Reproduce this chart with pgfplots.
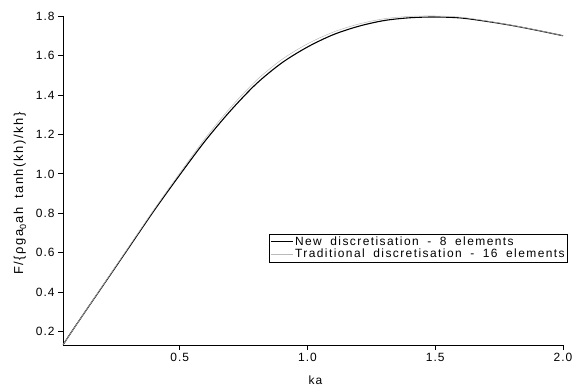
\documentclass[border=0pt]{standalone}
\usepackage{pgfplots}
\pgfplotsset{compat=1.18}
\usepackage{fontspec}
\setmainfont{Liberation Sans}[LetterSpace=8]
\newfontfamily\legendfont{Liberation Sans}[LetterSpace=12, WordSpace=1.8]

\begin{document}
\begin{tikzpicture}
\useasboundingbox (-63bp,-45bp) rectangle (510bp,345bp);
\begin{axis}[
  at={(0,0)}, anchor=south west,
  scale only axis,
  width=500bp, height=329bp,
  xmin=0.043, xmax=2.0,
  ymin=0.133, ymax=1.8,
  axis lines=left,
  axis line style={-, line width=0.8pt},
  xtick={0.5,1.0,1.5,2.0},
  ytick={0.2,0.4,0.6,0.8,1.0,1.2,1.4,1.6,1.8},
  xticklabel style={/pgf/number format/.cd, fixed, fixed zerofill, precision=1},
  yticklabel style={/pgf/number format/.cd, fixed, fixed zerofill, precision=1},
  /pgf/number format/assume math mode=true,
  tick align=outside,
  major tick length=5bp,
  tick style={line width=0.8pt, black},
  ticklabel style={font=\fontsize{12}{14}\selectfont},
  label style={font=\fontsize{12}{14}\selectfont},
  xlabel={ka},
  xlabel style={at={(axis description cs:0.505,-0.106)}, anchor=center},
  ylabel={\legendfont\fontsize{13}{15}\selectfont F/\{ρga\kern0.3pt\raisebox{-0.45ex}{\fontsize{9}{9}\selectfont 0}\kern0.3pt ah\hspace{9pt}tanh(kh)/kh\}},
  ylabel style={at={(axis description cs:-0.086,0.46)}, anchor=center},
  legend style={at={(1.01,0.295)}, anchor=east, draw=black, line width=0.6pt,
    font=\legendfont\fontsize{12}{13}\selectfont, inner sep=1pt, row sep=-2pt,
    legend cell align=left},
  legend image code/.code={\draw[#1] (0cm,0cm) -- (0.75cm,0cm);},
]
% new discretisation, 8 elements
\addplot[black, line width=1.1pt, smooth, tension=0.5] coordinates {
  (0.043,0.134) (0.10,0.245) (0.20,0.435) (0.30,0.625) (0.40,0.815)
  (0.50,0.995) (0.60,1.168) (0.70,1.322) (0.80,1.457) (0.90,1.563)
  (1.00,1.643) (1.10,1.705) (1.20,1.748) (1.30,1.777) (1.40,1.791)
  (1.50,1.795) (1.60,1.790) (1.70,1.773) (1.80,1.752) (1.90,1.727)
  (2.00,1.700)
};
\addlegendentry{New discretisation - 8 elements}
% traditional discretisation, 16 elements
\addplot[gray!55, line width=0.5pt, smooth, tension=0.5] coordinates {
  (0.043,0.134) (0.10,0.245) (0.20,0.437) (0.30,0.629) (0.40,0.821)
  (0.50,1.004) (0.60,1.181) (0.70,1.338) (0.80,1.474) (0.90,1.580)
  (1.00,1.659) (1.10,1.718) (1.20,1.759) (1.30,1.786) (1.40,1.798)
  (1.50,1.800) (1.60,1.794) (1.70,1.775) (1.80,1.753) (1.90,1.728)
  (2.00,1.700)
};
\addlegendentry{Traditional discretisation - 16 elements}
\end{axis}
\end{tikzpicture}
\end{document}
